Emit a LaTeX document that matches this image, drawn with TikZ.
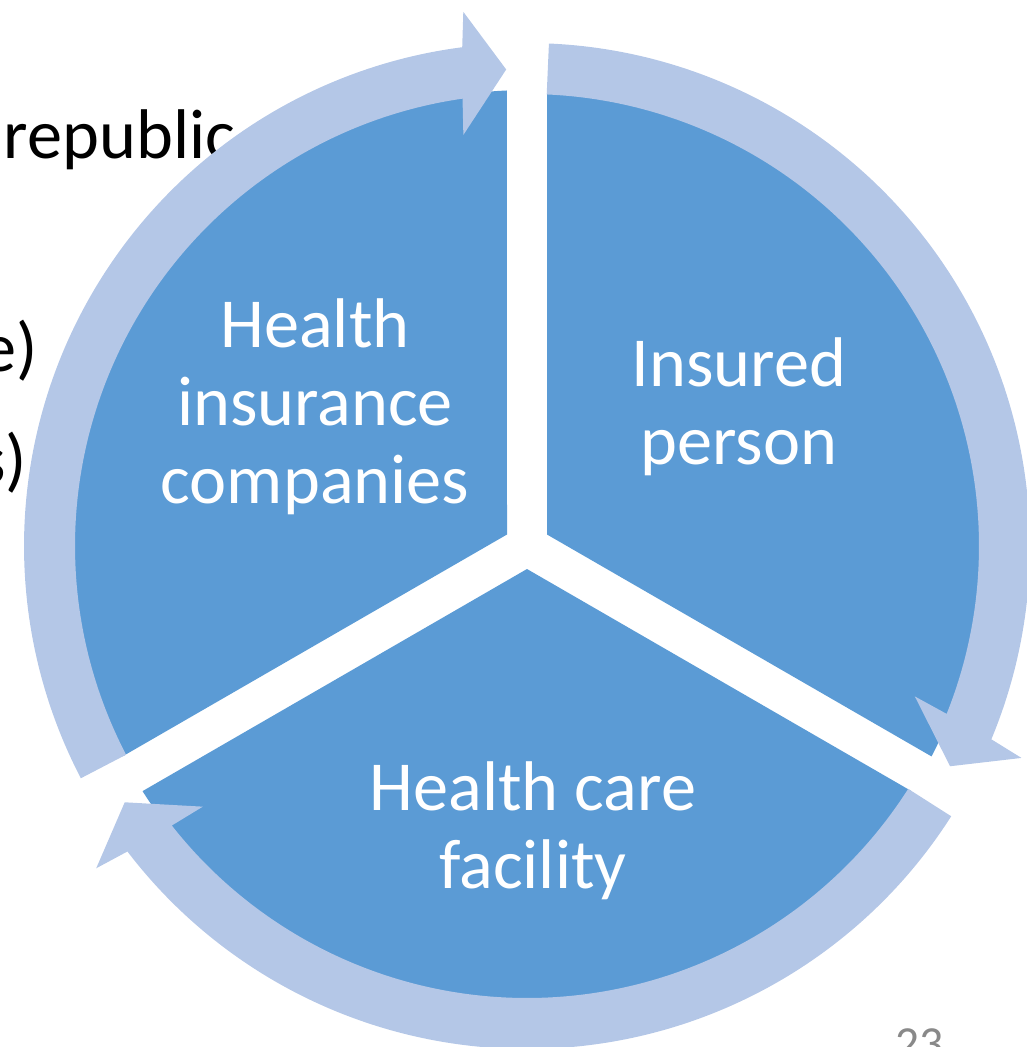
\documentclass[tikz,border=0pt]{standalone}
\usepackage{fontspec}
\setmainfont{Carlito}
\definecolor{segblue}{HTML}{5B9BD5}
\definecolor{ringblue}{HTML}{B4C7E7}
\definecolor{pagegray}{HTML}{898989}

% one curved arrow of the outer ring: tail angle #1, tip angle #2 (clockwise)
\newcommand\cyclearrow[2]{%
  \fill[ring] ([shift={(C)}]#1:5.03) arc[start angle=#1, end angle={#2+4.9}, radius=5.03]
    -- ([shift={(C)}]{#2+4.3}:5.38) -- ([shift={(C)}]#2:4.77) -- ([shift={(C)}]{#2+6.3}:4.16)
    -- ([shift={(C)}]{#2+5.7}:4.52) arc[start angle={#2+5.7}, end angle=#1, radius=4.52] -- cycle;}

\begin{document}
\begin{tikzpicture}[
  seg/.style={fill=segblue},
  ring/.style={fill=ringblue},
  seglabel/.style={text=white, align=center, font=\fontsize{20}{22.2}\selectfont, inner sep=0pt},
  bodytext/.style={text=black, font=\fontsize{20}{24}\selectfont, inner sep=0pt}
]
\useasboundingbox (0,0) rectangle (10.27,-10.47);
\coordinate (C) at (5.27,-5.46);

% slide text lying behind the diagram
\node[bodytext, anchor=base west] (t1) at (0.03,-1.58) {republic};
\node[bodytext, anchor=base east] (t2) at (0.38,-3.71) {e)};
\node[bodytext, anchor=base east] (t3) at (0.28,-4.83) {s)};

% the three segments
\fill[seg] (5.07,-5.345) -- ([shift={(C)}]92.52:4.56) arc[start angle=92.52, end angle=207.48, radius=4.56] -- cycle;
\fill[seg] (5.47,-5.345) -- ([shift={(C)}]-27.48:4.56) arc[start angle=-27.48, end angle=87.48, radius=4.56] -- cycle;
\fill[seg] (5.27,-5.69) -- ([shift={(C)}]212.52:4.56) arc[start angle=212.52, end angle=327.48, radius=4.56] -- cycle;

% the ring of arrows
\cyclearrow{207.5}{92.5}
\cyclearrow{87.5}{-27.5}
\cyclearrow{327.5}{212.5}

% labels
\node[seglabel] (hic) at (3.15,-4.065) {Health\\insurance\\companies};
\node[seglabel] (ip) at (7.39,-4.065) {Insured\\person};
\node[seglabel] (hcf) at (5.33,-8.31) {Health care\\facility};

% page number
\node[text=pagegray, font=\fontsize{13.5}{16}\selectfont, anchor=base west, inner sep=0pt] (pg) at (8.95,-10.59) {23};
\end{tikzpicture}
\end{document}
